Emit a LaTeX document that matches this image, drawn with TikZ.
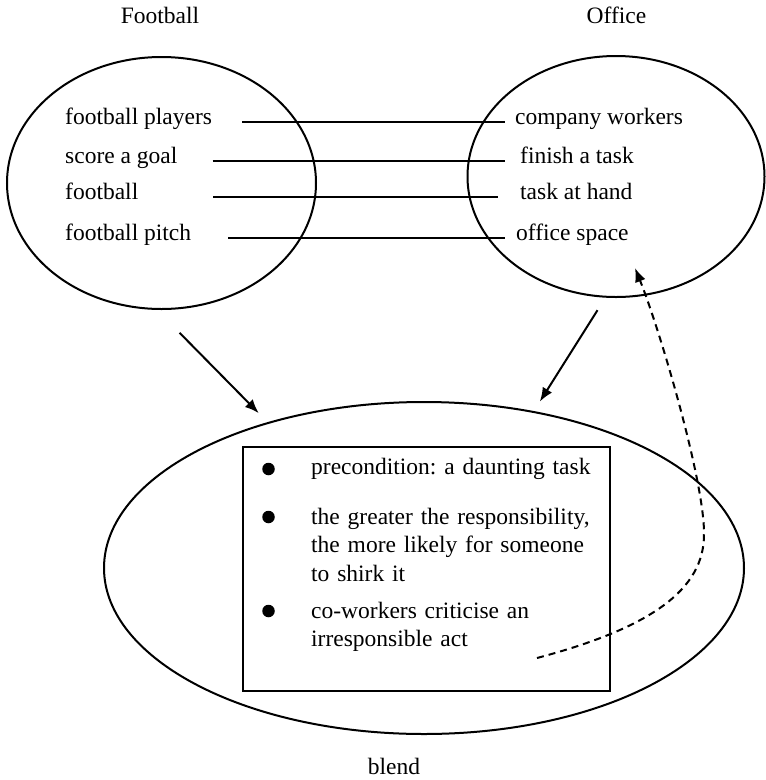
\documentclass[tikz,border=0pt]{standalone}
\usepackage{fontspec}
\setmainfont{Liberation Serif}
\usetikzlibrary{arrows.meta,positioning,shapes.geometric,calc}
\frenchspacing

\begin{document}
\begin{tikzpicture}[x=1pt, y=-1pt,
  space/.style={ellipse, draw, line width=2pt, inner sep=0pt},
  term/.style={inner sep=0pt, font=\fontsize{23.5}{28.5}\selectfont},
  title/.style={term, anchor=base},
  link/.style={line width=2pt},
  arr/.style={-{Latex[length=14pt,width=11pt]}, line width=2pt},
  dot/.style={circle, fill, inner sep=0pt, minimum size=12.5pt},
  item/.style={term, anchor=base west, text width=300pt, align=left}
]
  \useasboundingbox (0,0) rectangle (766,780);

  % the three mental spaces
  \node[space, minimum width=309pt, minimum height=252pt] (football) at (161.5,183) {};
  \node[space, minimum width=297pt, minimum height=241pt] (office) at (616,176.5) {};
  \node[space, minimum width=640pt, minimum height=332pt] (blend) at (424,568) {};

  \node[title] (football-title) at (160,23) {Football};
  \node[title] (office-title) at (616.5,23) {Office};
  \node[title] (blend-title) at (394,774) {blend};

  % counterparts
  \node[term, anchor=mid west] (f1) at (65,122) {football players};
  \node[term, anchor=mid west] (f2) at (65,161) {score a goal};
  \node[term, anchor=mid west] (f3) at (65,197) {football};
  \node[term, anchor=mid west] (f4) at (65,238) {football pitch};
  \node[term, anchor=mid west] (o1) at (515,122) {company workers};
  \node[term, anchor=mid west] (o2) at (520,161) {finish a task};
  \node[term, anchor=mid west] (o3) at (520,197) {task at hand};
  \node[term, anchor=mid west] (o4) at (516,238) {office space};
  \foreach \i/\l/\r in {1/30/10, 2/35/15, 3/75/22, 4/37/11}
    \draw[link] ($(f\i.mid east)+(\l,0)$) -- ($(o\i.mid west)-(\r,0)$);

  % projections into the blend
  \draw[arr, shorten <=32pt, shorten >=12.6pt] (football.-92) -- (blend.137);
  \draw[arr, shorten <=14.8pt, shorten >=11.2pt] (office.-95) -- (blend.55.5);

  % emergent structure
  \node[draw, line width=2pt, minimum width=367pt, minimum height=244pt] (box) at (426.5,569) {};
  \node[item] (item1) at (311,474) {precondition: a daunting task};
  \node[item] (item2) at (311,524) {the greater the responsibility,\\the more likely for someone\\to shirk it};
  \node[item] (item3) at (311,618) {co-workers criticise an\\irresponsible act};
  \node[dot] (dot1) at (268.5,469) {};
  \node[dot] (dot2) at (268.5,517) {};
  \node[dot] (dot3) at (268.5,611) {};

  % backward projection
  \coordinate (back-start) at (537,658);
  \coordinate (back-end) at (635,268);
  \draw[arr, dash pattern=on 7pt off 5pt] (back-start)
    .. controls (650,628) and (705,590) .. (704,533)
    .. controls (704,480) and (660,330) .. (back-end);
\end{tikzpicture}
\end{document}
